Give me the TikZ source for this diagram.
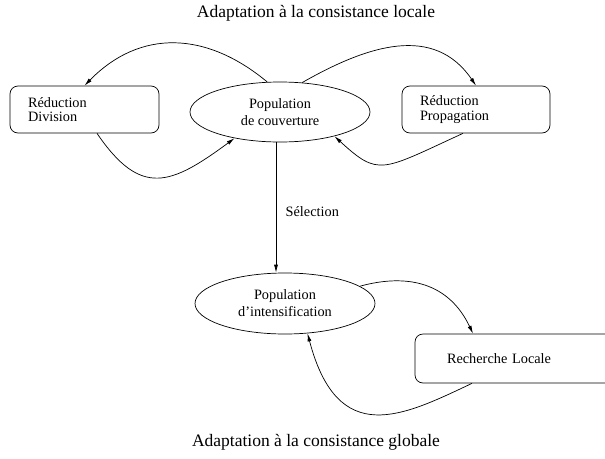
\documentclass[tikz,border=0pt]{standalone}
\usepackage{fontspec}
\setmainfont{Liberation Serif}
\usetikzlibrary{arrows.meta,shapes.geometric}

\begin{document}
\begin{tikzpicture}[x=1pt,y=-1pt,line width=0.7pt,
  font=\fontsize{14.3}{17}\selectfont,
  fleche/.style={-{Latex[length=8pt,width=4pt]}},
  boite/.style={draw,rounded corners=8pt,minimum height=47pt,align=left,inner ysep=0pt,
    font=\fontsize{14.3}{14.5}\selectfont},
  pop/.style={draw,ellipse,minimum width=180pt,minimum height=60pt,inner sep=0pt,align=center},
  titre/.style={font=\fontsize{17.5}{20}\selectfont,anchor=base}]
\useasboundingbox (0,0) rectangle (605,458);
\clip (0,0) rectangle (605,458);

\node[titre] (tlocale) at (316,17.5) {Adaptation à la consistance locale};
\node[titre] (tglobale) at (316,446) {Adaptation à la consistance globale};

\node[boite,text width=113pt,inner xsep=18pt] (division) at (84.5,109.5) {Réduction\\Division};
\node[pop] (couverture) at (280,112) {Population\\de couverture};
\node[boite,text width=112pt,inner xsep=18pt] (propagation) at (476,109.5) {Réduction\\Propagation};

\node[pop,minimum height=61pt] (intensification) at (285,303.5) {Population\\d'intensification};
\node[boite,minimum height=49pt,text width=136pt,inner xsep=32pt] (recherche) at (515,358.5) {Recherche Locale};

\draw[fleche] (couverture.113) .. controls (206,31) and (140,29) .. (division.north);
\draw[fleche] ([xshift=12.5pt]division.south) .. controls (141,198) and (171,185) .. (couverture.210);
\draw[fleche] (couverture.53) .. controls (368,45) and (434,24) .. (propagation.north);
\draw[fleche] ([xshift=-13pt]propagation.south) .. controls (381,171) and (379,177) .. (couverture.336);

\draw[fleche] ([xshift=-4pt]couverture.south) -- node[right=6pt,pos=0.53] (selection) {Sélection} ([xshift=-9pt]intensification.north);

\draw[fleche] (intensification.13) .. controls (408,273) and (449,283) .. ([xshift=-42pt]recherche.north);
\draw[fleche] ([xshift=-43pt]recherche.south) .. controls (403,416) and (338,449) .. (intensification.307);

\end{tikzpicture}
\end{document}
